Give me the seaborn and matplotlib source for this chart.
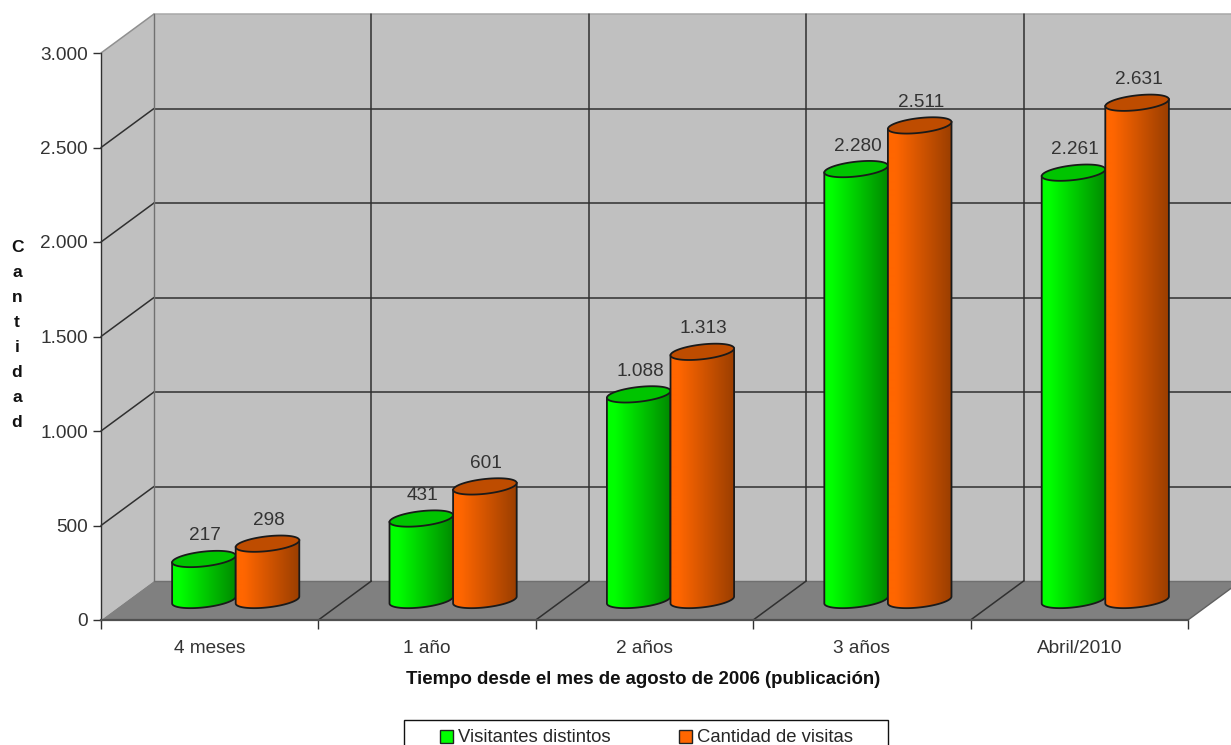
import numpy as np
import pandas as pd
import matplotlib
matplotlib.use("Agg")
import matplotlib.pyplot as plt
import seaborn as sns
from matplotlib.path import Path
from matplotlib.patches import PathPatch, Polygon, Rectangle
from matplotlib.transforms import Affine2D

categorias = ["4 meses", "1 año", "2 años", "3 años", "Abril/2010"]
visitantes = [217, 431, 1088, 2280, 2261]
visitas = [298, 601, 1313, 2511, 2631]
series = ["Visitantes distintos", "Cantidad de visitas"]
y_ticks = [0, 500, 1000, 1500, 2000, 2500, 3000]

sns.set_theme(style="white")
plt.rcParams["font.family"] = ["Liberation Sans", "DejaVu Sans"]

W, H = 1231, 745
fig = plt.figure(figsize=(W / 100, H / 100), dpi=100)
ax = fig.add_axes([101 / W, 1 - 620 / H, (1188 - 101) / W, (620 - 53) / H])

tabla = pd.DataFrame({
    "cat": categorias * 2,
    "valor": visitantes + visitas,
    "serie": [series[0]] * 5 + [series[1]] * 5,
})
sns.barplot(data=tabla, x="cat", y="valor", hue="serie", ax=ax, width=0.585, gap=0,
            palette=["#00FF00", "#FF6600"], saturation=1, errorbar=None, zorder=3)

x0, x1 = -0.5, 4.5
ax.set_xlim(x0, x1)
ax.set_ylim(0, 3000)
ax.set_autoscale_on(False)
ax.patch.set_visible(False)

# fondo falso 3D
dx = 53 / 217.4
dy = 39 * 3000 / 567
ax.add_patch(Polygon([(x0 + dx, dy), (x1 + dx, dy), (x1 + dx, 3000 + dy), (x0 + dx, 3000 + dy)],
                     fc="#C0C0C0", ec="none", clip_on=False, zorder=0.5))
ax.add_patch(Polygon([(x0, 0), (x0 + dx, dy), (x0 + dx, 3000 + dy), (x0, 3000)],
                     fc="#C0C0C0", ec="none", clip_on=False, zorder=0.5))
ax.add_patch(Polygon([(x0, 0), (x1, 0), (x1 + dx, dy), (x0 + dx, dy)],
                     fc="#808080", ec="none", clip_on=False, zorder=0.6))

linea = dict(color="#303030", lw=1.1, clip_on=False, zorder=1)
for v in y_ticks[1:]:
    ax.plot([x0 + dx, x1 + dx], [v + dy, v + dy], **(linea if v < 3000 else {**linea, "color": "#A8A8A8"}))
    ax.plot([x0, x0 + dx], [v, v + dy], **(linea if v < 3000 else {**linea, "color": "#909090"}))
ax.plot([x0 + dx, x1 + dx], [dy, dy], color="#707070", lw=1, clip_on=False, zorder=1)
ax.plot([x0 + dx, x0 + dx], [dy, 3000 + dy], color="#707070", lw=1, clip_on=False, zorder=1)
for g in range(1, 5):
    ax.plot([x0 + g + dx, x0 + g + dx], [dy, 3000 + dy], **linea)
    ax.plot([x0 + g, x0 + g + dx], [0, dy], **linea)
ax.plot([x1, x1 + dx], [0, dy], color="#606060", lw=1, clip_on=False, zorder=1)

# cilindros encima de las barras de seaborn
bar_trans = ax.transData + Affine2D().translate(26, 20)
b = 7.4 * 3000 / 567
k = 124
t_arc = np.linspace(np.pi, 2 * np.pi, 40)
t_full = np.linspace(0, 2 * np.pi, 80)

for s, cont in enumerate(ax.containers):
    base = np.array(matplotlib.colors.to_rgb(["#00FF00", "#FF6600"][s]))
    fin = np.array(matplotlib.colors.to_rgb(["#008A00", "#9A3E00"][s]))
    mezcla = np.clip((np.linspace(0, 1, 128) - 0.12) / 0.88, 0, 1)[None, :, None]
    grad = base[None, None, :] * (1 - mezcla) + fin[None, None, :] * mezcla
    top_col = ["#00C400", "#BE4C00"][s]
    z = 3 + s

    for rect in cont:
        a = rect.get_width() / 2
        cx = rect.get_x() + a
        h = rect.get_height()
        xs = cx + a * np.cos(t_arc)
        ys = b * np.sin(t_arc) + k * a * np.cos(t_arc)
        cuerpo = np.vstack([np.column_stack([xs, ys]),
                            [cx + a, h + k * a], [cx - a, h - k * a], [cx - a, -k * a]])
        body = PathPatch(Path(cuerpo, closed=True), fc="none", ec="#1a1a1a", lw=1.3,
                         transform=bar_trans, zorder=z + 0.2, clip_on=False)
        ax.add_patch(body)
        rect.set_transform(bar_trans)
        rect.set_clip_path(body)
        rect.set_zorder(z)
        im = ax.imshow(grad, extent=(cx - a, cx + a, -200, h + 200), aspect="auto",
                       interpolation="bilinear", zorder=z + 0.1)
        im.set_transform(bar_trans)
        im.set_clip_path(body)
        tapa = np.column_stack([cx + a * np.cos(t_full),
                                h + b * np.sin(t_full) + k * a * np.cos(t_full)])
        ax.add_patch(Polygon(tapa, fc=top_col, ec="#1a1a1a", lw=1.3, transform=bar_trans,
                             zorder=z + 0.3, clip_on=False))
        ax.annotate(f"{int(h):,}".replace(",", "."), xy=(cx, h), xycoords=bar_trans,
                    xytext=(1.5, 23), textcoords="offset pixels", ha="center", va="center",
                    fontsize=13.7, color="#333333", zorder=8)

ax.set_xlim(x0, x1)
ax.set_ylim(0, 3000)

# ejes
for lado in ["top", "right"]:
    ax.spines[lado].set_visible(False)
ax.spines["left"].set_color("#303030")
ax.spines["left"].set_linewidth(1)
ax.spines["bottom"].set_color("#505050")
ax.spines["bottom"].set_linewidth(1.6)
for sp in ax.spines.values():
    sp.set_zorder(2)

ax.set_xticks(range(5))
ax.set_xticklabels(categorias)
ax.set_xticks(np.arange(x0, x1 + 1), minor=True)
ax.tick_params(axis="x", which="major", length=0, pad=14.4, labelsize=13.7, labelcolor="#333333")
ax.tick_params(axis="x", which="minor", length=6.5, width=1, color="#303030", bottom=True)
ax.set_yticks(y_ticks)
ax.set_yticklabels([f"{v:,}".replace(",", ".") for v in y_ticks])
ax.tick_params(axis="y", length=6, width=1, color="#303030", pad=3.5, left=True,
               labelsize=13.7, labelcolor="#333333")

ax.set_xlabel("Tiempo desde el mes de agosto de 2006 (publicación)", fontsize=13.4,
              fontweight="bold", color="#111111")
ax.xaxis.set_label_coords((643 - 101) / (1188 - 101), -(671 - 620) / 567)
ax.set_ylabel("\n".join("Cantidad"), rotation=0, fontsize=12.5, fontweight="bold",
              color="#111111", linespacing=1.83, ha="center", va="center")
ax.yaxis.set_label_coords((17 - 101) / (1188 - 101), 1 - (335 - 53) / 567)

# leyenda, se corta abajo como en el original
fig.add_artist(Rectangle((403.5 / W, 1 - 770 / H), (888 - 403.5) / W, 50 / H, fc="none",
                         ec="#111111", lw=1, transform=fig.transFigure))
sns.move_legend(ax, "upper left", bbox_to_anchor=(440 / W, 1 - 729.5 / H),
                bbox_transform=fig.transFigure, ncol=2, frameon=False, title=None,
                fontsize=13.3, handlelength=0.7, handleheight=0.7, handletextpad=0.25,
                columnspacing=3.75, borderpad=0, borderaxespad=0)
for mano in ax.get_legend().legend_handles:
    mano.set_edgecolor("#222222")
    mano.set_linewidth(1)
ax.get_legend().set_zorder(10)

fig.savefig("out.png", dpi=100)
